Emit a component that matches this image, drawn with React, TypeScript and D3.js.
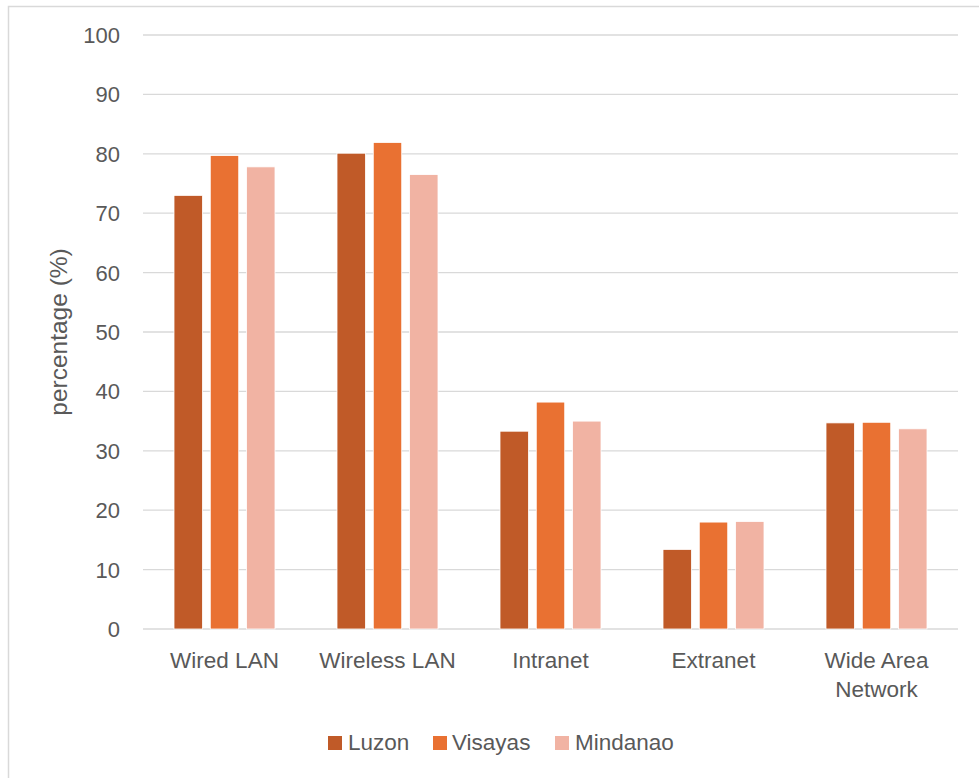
import React from "react";
import * as d3 from "d3";

const categories = ["Wired LAN", "Wireless LAN", "Intranet", "Extranet", "Wide Area Network"];
const categoryLines = [["Wired LAN"], ["Wireless LAN"], ["Intranet"], ["Extranet"], ["Wide Area", "Network"]];
const seriesNames = ["Luzon", "Visayas", "Mindanao"];
const luzon = [73.0, 80.1, 33.3, 13.4, 34.7];
const visayas = [79.7, 81.9, 38.2, 18.0, 34.8];
const mindanao = [77.8, 76.5, 35.0, 18.1, 33.7];
const yTicks = [0, 10, 20, 30, 40, 50, 60, 70, 80, 90, 100];
const colors = ["#C05A28", "#E97132", "#F1B3A3"];

const W = 979, H = 778;
const plotLeft = 143, plotRight = 958, plotTop = 35, plotBottom = 629;
const FONT = "'Liberation Sans', Arial, sans-serif";
const TEXT = "#595959";

export default function App() {
  const series = [luzon, visayas, mindanao];
  const x = d3.scaleBand<string>().domain(categories).range([plotLeft, plotRight]).paddingInner(0).paddingOuter(0);
  const y = d3.scaleLinear().domain([0, 100]).range([plotBottom, plotTop]);
  const groupW = 101;
  const inner = d3.scaleBand<string>().domain(seriesNames).range([0, groupW]).paddingInner(0.215).paddingOuter(0);
  const legendItems = [
    { name: "Luzon", sx: 328, tx: 348 },
    { name: "Visayas", sx: 433, tx: 452 },
    { name: "Mindanao", sx: 555, tx: 575 },
  ];
  return (
    <svg width={W} height={H} style={{ position: "absolute", left: 0, top: 0, background: "#fff" }} fontFamily={FONT}>
      <rect x={8.5} y={6.5} width={1100} height={1100} fill="#fff" stroke="#d9d9d9" strokeWidth={1.5} />
      {yTicks.map((t) => (
        <g key={t}>
          <line x1={plotLeft} x2={plotRight} y1={y(t)} y2={y(t)} stroke="#d9d9d9" strokeWidth={t === 0 ? 1.5 : 1.3} />
          <text x={120} y={y(t) + 8} textAnchor="end" fontSize={22} fill={TEXT}>{t}</text>
        </g>
      ))}
      {categories.map((c, ci) => {
        const gx = (x(c) as number) + (x.bandwidth() - groupW) / 2;
        return (
          <g key={c}>
            {series.map((s, si) => (
              <rect
                key={si}
                x={gx + (inner(seriesNames[si]) as number)}
                y={y(s[ci])}
                width={inner.bandwidth()}
                height={y(0) - y(s[ci])}
                fill={colors[si]}
                stroke="#fff"
                strokeWidth={0.8}
              />
            ))}
            {categoryLines[ci].map((ln, li) => (
              <text key={li} x={(x(c) as number) + x.bandwidth() / 2} y={668 + li * 28.5} textAnchor="middle" fontSize={22.5} fill={TEXT}>{ln}</text>
            ))}
          </g>
        );
      })}
      <text transform={`translate(67,332) rotate(-90)`} textAnchor="middle" fontSize={24.5} fill={TEXT}>percentage (%)</text>
      {legendItems.map((l, i) => (
        <g key={l.name}>
          <rect x={l.sx} y={736} width={14} height={14} fill={colors[i]} />
          <text x={l.tx} y={749.5} fontSize={22.5} fill={TEXT}>{l.name}</text>
        </g>
      ))}
    </svg>
  );
}
